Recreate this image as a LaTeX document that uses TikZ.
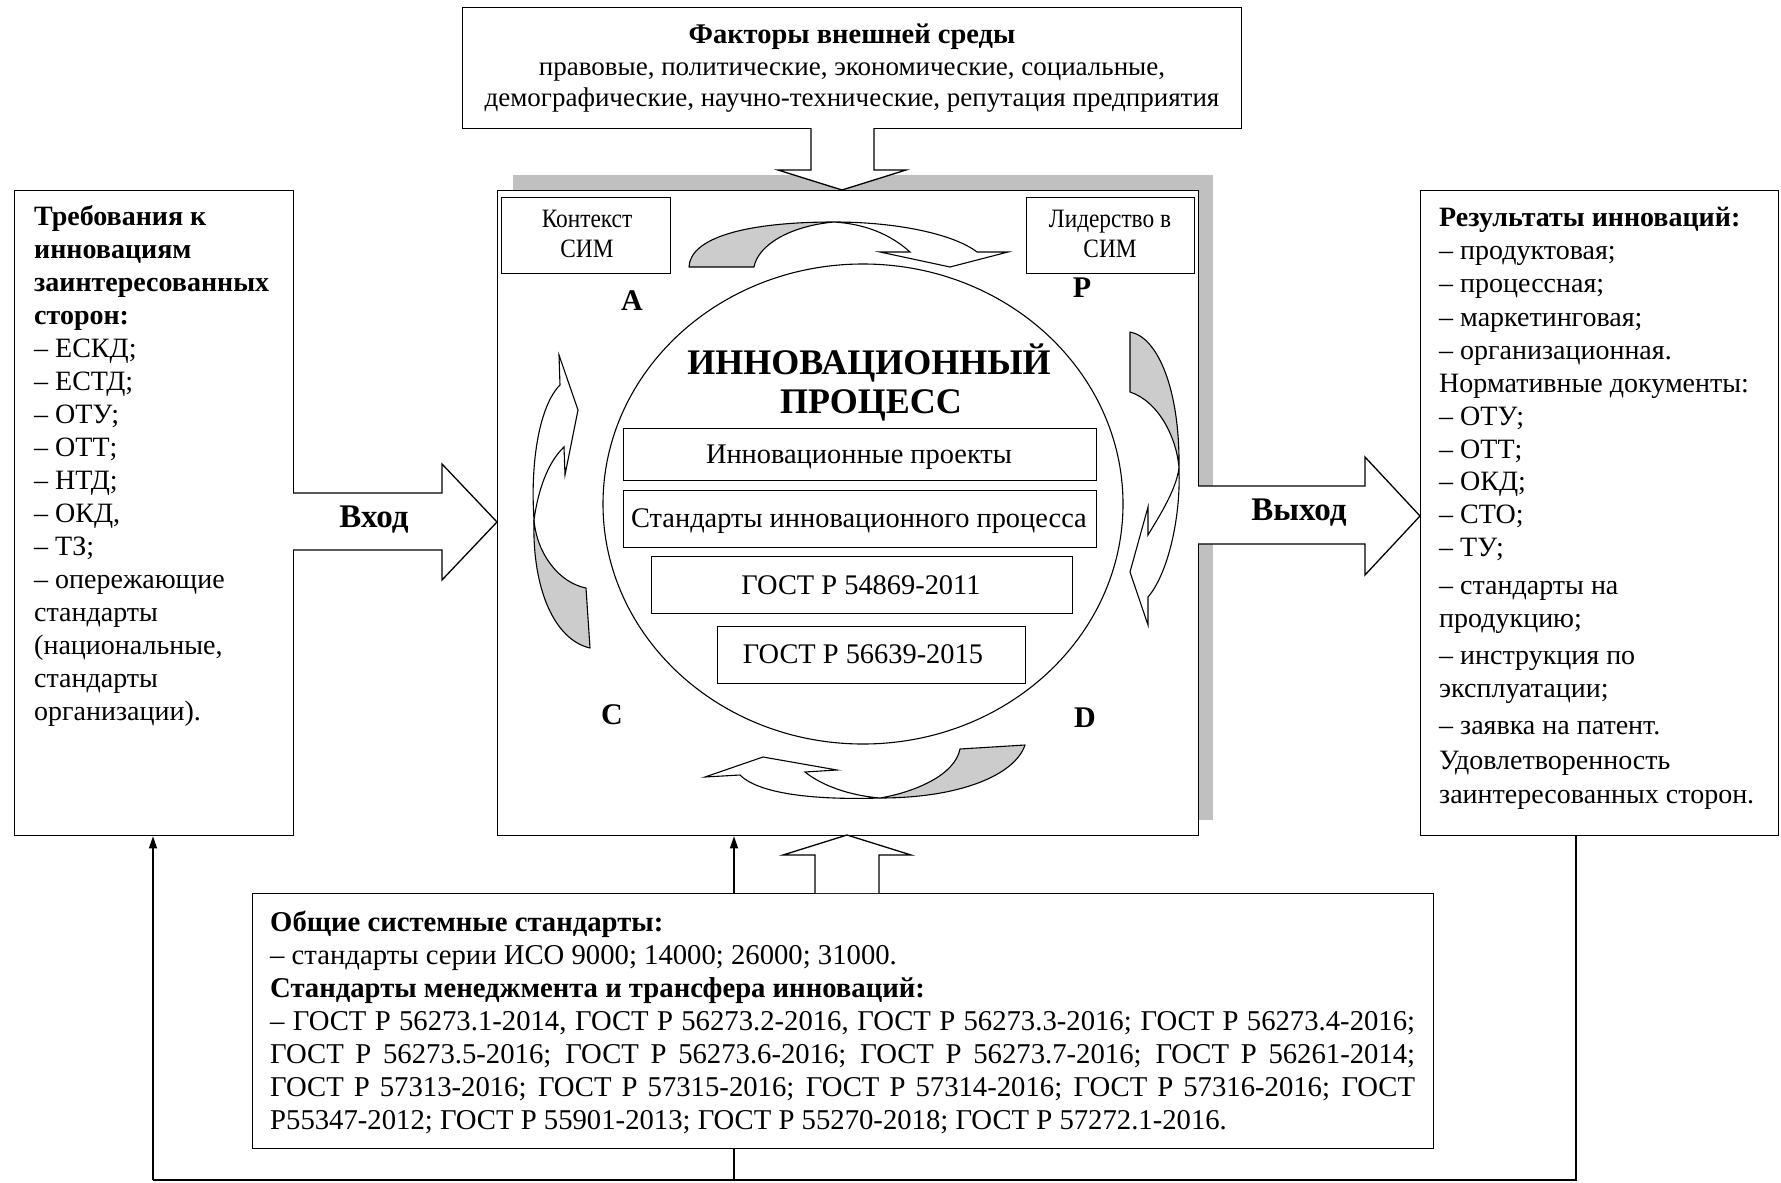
\documentclass[tikz,border=0pt]{standalone}
\usepackage{fontspec}
\setmainfont{Liberation Serif}
\newfontfamily\condfont{Liberation Serif}[FakeStretch=0.88]
\usetikzlibrary{arrows.meta}
\definecolor{shadowgray}{RGB}{192,192,192}
\definecolor{ribbongray}{RGB}{204,204,204}
\begin{document}
\begin{tikzpicture}[x=1pt,y=-1pt,
  box/.style={draw, line width=1.3pt, fill=white, inner sep=0pt, anchor=north west},
  ln/.style={line width=1.3pt},
  arr/.style={line width=1.3pt, -{Triangle[length=12pt,width=8pt]}},
  blockarr/.style={draw, line width=1.3pt, fill=white, line join=miter},
  rgray/.style={draw, line width=1.1pt, fill=ribbongray, line join=round},
  rwhite/.style={draw, line width=1.1pt, fill=white, line join=miter},
  tx/.style={inner sep=0pt, anchor=mid west, yshift=-7pt, font=\fontsize{28}{33}\selectfont},
  txb/.style={inner sep=0pt, anchor=mid west, yshift=-7pt, font=\fontsize{28}{33}\selectfont\bfseries},
  btx/.style={inner sep=0pt, anchor=mid west, yshift=-7pt, font=\fontsize{28.7}{33}\selectfont},
  btxb/.style={inner sep=0pt, anchor=mid west, yshift=-7pt, font=\fontsize{28.7}{33}\selectfont\bfseries},
  ctx/.style={inner sep=0pt, anchor=mid, yshift=-7pt, font=\fontsize{28.4}{33}\selectfont},
  toptx/.style={inner sep=0pt, anchor=mid, yshift=-7pt, font=\fontsize{27}{33}\selectfont},
  toptxb/.style={inner sep=0pt, anchor=mid, yshift=-7pt, font=\fontsize{28.5}{33}\selectfont\bfseries},
  small/.style={inner sep=0pt, anchor=mid, yshift=-5pt, font=\condfont\fontsize{26.5}{30}\selectfont},
  letter/.style={inner sep=0pt, anchor=center, font=\fontsize{30}{33}\selectfont\bfseries},
  lab/.style={inner sep=0pt, anchor=center, yshift=-2pt, font=\fontsize{33}{36}\selectfont\bfseries},
]
\useasboundingbox (0,0) rectangle (1781,1183);
\fill[white] (0,0) rectangle (1781,1183);

% ---------- boxes ----------
\node[box, minimum width=779pt, minimum height=121pt] (topbox) at (462,7) {};
\fill[shadowgray] (513,175) rectangle (1213,820);
\node[box, minimum width=701pt, minimum height=645pt] (main) at (497,190) {};
\node[box, minimum width=279pt, minimum height=645pt] (left) at (14,190) {};
\node[box, minimum width=358pt, minimum height=645pt] (right) at (1420,190) {};
\node[box, minimum width=1181pt, minimum height=255pt] (bottom) at (252,893) {};

% ---------- block arrows ----------
\draw[blockarr] (811,128) -- (811,170) -- (778,170) -- (842,190) -- (906,170) -- (874,170) -- (874,128);
\draw[blockarr] (815,893) -- (815,855) -- (783,855) -- (847,835) -- (911,855) -- (879,855) -- (879,893);
\draw[blockarr] (293,493) -- (442,493) -- (442,464) -- (497,522) -- (442,580) -- (442,550) -- (293,550);
\draw[blockarr] (1198,486) -- (1365,486) -- (1365,457) -- (1420,516) -- (1365,575) -- (1365,544) -- (1198,544);
\node[lab] (vhod) at (374,518) {Вход};
\node[lab] (vyhod) at (1299,511) {Выход};

% ---------- thin connectors ----------
\coordinate (fbM) at (734,1180);
\coordinate (fbL) at (153,1180);
\coordinate (fbR) at (1576,1180);
\draw[arr] (bottom.north -| fbM) -- (main.south -| fbM);
\draw[ln] (bottom.south -| fbM) -- (fbM);
\draw[ln] (right.south -| fbR) -- (fbR) -- (fbL);
\draw[arr] (fbL) -- (left.south -| fbL);

% ---------- curved arrows ----------
% top (A -> P)
\draw[rgray] (689,267) .. controls (690,238) and (745,222) .. (834,222)
  .. controls (790,226) and (758,245) .. (754,267) -- cycle;
\draw[rwhite] (834,222) .. controls (900,222) and (955,235) .. (977,252) -- (1008,252) -- (950,267)
  -- (880,252) -- (910,252) .. controls (890,234) and (865,224) .. (834,222) -- cycle;
% right (P -> D)
\draw[rgray] (1130,332) .. controls (1158,337) and (1180,390) .. (1179,468)
  .. controls (1177,440) and (1160,402) .. (1130,392) -- cycle;
\draw[rwhite] (1179,468) .. controls (1181,520) and (1167,575) .. (1148,597) -- (1148,625) -- (1130,572)
  -- (1148,507) -- (1148,535) .. controls (1160,515) and (1176,490) .. (1179,468) -- cycle;
% bottom (D -> C)
\draw[rgray] (1025,745) .. controls (1015,775) and (960,798) .. (880,798)
  .. controls (915,792) and (955,775) .. (960,749) -- cycle;
\draw[rwhite] (880,798) .. controls (820,800) and (760,795) .. (740,775) -- (705,777) -- (763,757)
  -- (837,770) -- (805,772) .. controls (825,788) and (855,796) .. (880,798) -- cycle;
% left (C -> A)
\draw[rgray] (590,648) .. controls (555,640) and (532,590) .. (534,520)
  .. controls (537,555) and (560,583) .. (586,588) -- cycle;
\draw[rwhite] (534,520) .. controls (530,460) and (540,405) .. (560,385) -- (559,355) -- (578,410)
  -- (565,475) -- (564,447) .. controls (548,462) and (538,490) .. (534,520) -- cycle;

% ---------- ellipse and inner boxes ----------
\draw[line width=1.1pt] (863,504) ellipse [x radius=260pt, y radius=240pt];
\node[box, minimum width=169pt, minimum height=76pt] (kont) at (501,197) {};
\node[box, minimum width=168pt, minimum height=76pt] (lid) at (1026,197) {};
\node[box, minimum width=473pt, minimum height=52pt] (ip) at (623,428) {};
\node[box, minimum width=473pt, minimum height=57pt] (sip) at (623,490) {};
\node[box, minimum width=421pt, minimum height=57pt] (g1) at (651,556) {};
\node[box, minimum width=308pt, minimum height=57pt] (g2) at (717,626) {};

% ---------- texts: top ----------
\node[toptxb] (t1) at (852,34) {Факторы внешней среды};
\node[toptx] (t2) at (852,66) {правовые, политические, экономические, социальные,};
\node[toptx] (t3) at (852,97) {демографические, научно-технические, репутация предприятия};

% ---------- texts: main ----------
\node[small] (k1) at (587,220) {Контекст};
\node[small] (k2) at (587,250) {СИМ};
\node[small] (l1) at (1110,220) {Лидерство в};
\node[small] (l2) at (1110,250) {СИМ};
\node[letter] (la) at (632,301) {А};
\node[letter] (lp) at (1082,288) {Р};
\node[letter] (lc) at (612,715) {С};
\node[letter] (ld) at (1085,718) {D};
\node[inner sep=0pt, anchor=base, font=\fontsize{36}{40}\selectfont\bfseries] (tt1) at (869,374) {ИННОВАЦИОННЫЙ};
\node[inner sep=0pt, anchor=base, font=\fontsize{36}{40}\selectfont\bfseries] (tt2) at (871,413) {ПРОЦЕСС};
\node[ctx] (ipt) at (859,454) {Инновационные проекты};
\node[ctx] (sipt) at (859,518) {Стандарты инновационного процесса};
\node[ctx] (g1t) at (861,585) {ГОСТ Р 54869-2011};
\node[ctx] (g2t) at (863,654) {ГОСТ Р 56639-2015};

% ---------- texts: left ----------
\node[txb] (a1) at (34,216) {Требования к};
\node[txb] (a2) at (34,249) {инновациям};
\node[txb] (a3) at (34,282) {заинтересованных};
\node[txb] (a4) at (34,315) {сторон:};
\node[tx] (a5) at (34,348) {– ЕСКД;};
\node[tx] (a6) at (34,381) {– ЕСТД;};
\node[tx] (a7) at (34,414) {– ОТУ;};
\node[tx] (a8) at (34,447) {– ОТТ;};
\node[tx] (a9) at (34,480) {– НТД;};
\node[tx] (a10) at (34,513) {– ОКД,};
\node[tx] (a11) at (34,546) {– ТЗ;};
\node[tx] (a12) at (34,579) {– опережающие};
\node[tx] (a13) at (34,612) {стандарты};
\node[tx] (a14) at (34,645) {(национальные,};
\node[tx] (a15) at (34,678) {стандарты};
\node[tx] (a16) at (34,711) {организации).};

% ---------- texts: right ----------
\node[txb] (b1) at (1439,217) {Результаты инноваций:};
\node[tx] (b2) at (1439,250) {– продуктовая;};
\node[tx] (b3) at (1439,283) {– процессная;};
\node[tx] (b4) at (1439,317) {– маркетинговая;};
\node[tx] (b5) at (1439,350) {– организационная.};
\node[tx] (b6) at (1439,383) {Нормативные документы:};
\node[tx] (b7) at (1439,416) {– ОТУ;};
\node[tx] (b8) at (1439,449) {– ОТТ;};
\node[tx] (b9) at (1439,481) {– ОКД;};
\node[tx] (b10) at (1439,514) {– СТО;};
\node[tx] (b11) at (1439,547) {– ТУ;};
\node[tx] (b12) at (1439,585) {– стандарты на};
\node[tx] (b13) at (1439,618) {продукцию;};
\node[tx] (b14) at (1439,655) {– инструкция по};
\node[tx] (b15) at (1439,688) {эксплуатации;};
\node[tx] (b16) at (1439,725) {– заявка на патент.};
\node[tx] (b17) at (1439,760) {Удовлетворенность};
\node[tx] (b18) at (1439,794) {заинтересованных сторон.};

% ---------- texts: bottom ----------
\node[btxb] (c1) at (270,922) {Общие системные стандарты:};
\node[btx] (c2) at (270,955) {– стандарты серии ИСО 9000; 14000; 26000; 31000.};
\node[btxb] (c3) at (270,988) {Стандарты менеджмента и трансфера инноваций:};
\node[btx] (c4) at (270,1021) {\makebox[1145pt][s]{– ГОСТ Р 56273.1-2014, ГОСТ Р 56273.2-2016, ГОСТ Р 56273.3-2016; ГОСТ Р 56273.4-2016;}};
\node[btx] (c5) at (270,1054) {\makebox[1145pt][s]{ГОСТ Р 56273.5-2016; ГОСТ Р 56273.6-2016; ГОСТ Р 56273.7-2016; ГОСТ Р 56261-2014;}};
\node[btx] (c6) at (270,1087) {\makebox[1145pt][s]{ГОСТ Р 57313-2016; ГОСТ Р 57315-2016; ГОСТ Р 57314-2016; ГОСТ Р 57316-2016; ГОСТ}};
\node[btx] (c7) at (270,1120) {Р55347-2012; ГОСТ Р 55901-2013; ГОСТ Р 55270-2018; ГОСТ Р 57272.1-2016.};
\end{tikzpicture}
\end{document}
